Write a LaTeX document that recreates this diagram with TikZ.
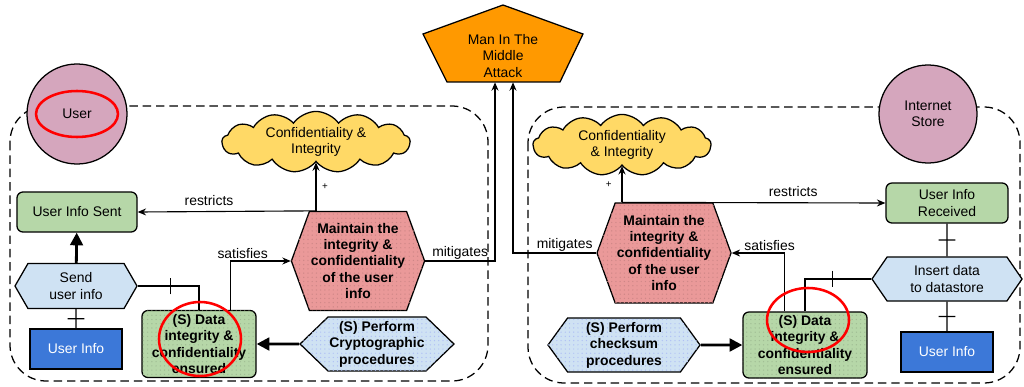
\documentclass[tikz,border=0pt]{standalone}
\usepackage{fontspec}
\setmainfont{Liberation Sans}
\usetikzlibrary{shapes.geometric,shapes.symbols,arrows.meta,decorations.markings,patterns}

\definecolor{rosa}{HTML}{D5A6BD}
\definecolor{verde}{HTML}{B6D7A8}
\definecolor{azzurro}{HTML}{CFE2F3}
\definecolor{blu}{HTML}{3C78D8}
\definecolor{rosso}{HTML}{EA9999}
\definecolor{arancio}{HTML}{FF9900}
\definecolor{giallo}{HTML}{FFD966}

\begin{document}
\begin{tikzpicture}[x=0.025cm, y=-0.025cm,
    every node/.style={font=\fontsize{9.9}{11.7}\selectfont, align=center, inner sep=1pt},
    attore/.style={circle, draw, line width=0.9pt, fill=rosa, minimum size=2.5cm},
    scatola/.style={rectangle, rounded corners=0.15cm, draw, line width=0.9pt, fill=verde, minimum width=3cm, minimum height=1cm},
    garanzia/.style={scatola, font=\fontsize{9.9}{11.7}\selectfont\bfseries, postaction={pattern=dots, pattern color=verde!88!black}},
    dato/.style={rectangle, draw, line width=0.9pt, fill=blu, text=white, minimum width=2.3cm, minimum height=1cm},
    processo/.style={signal, signal to=east and west, signal pointer angle=#1, draw, line width=0.9pt, fill=azzurro},
    sicurezza/.style={processo=#1, font=\fontsize{9.9}{11.7}\selectfont\bfseries, postaction={pattern=dots, pattern color=azzurro!85!blue}},
    obiettivo/.style={signal, signal to=east and west, signal pointer angle=140, draw, line width=0.9pt, fill=rosso,
        font=\fontsize{9.9}{11.7}\selectfont\bfseries, postaction={pattern=dots, pattern color=rosso!88!black}},
    nuvola/.style={cloud, cloud puffs=13, cloud puff arc=110, aspect=4, inner sep=0pt, draw, line width=0.9pt, fill=giallo, minimum width=4.7cm, minimum height=1.15cm},
    freccia/.style={-{Stealth[length=6pt,width=5pt,inset=2pt]}, line width=0.8pt},
    grossa/.style={-{Triangle[length=9pt,width=9pt]}, line width=2pt},
    linea/.style={line width=0.8pt},
    crossbar/.style={postaction={decorate, decoration={markings, mark=at position #1 with {\draw[line width=0.8pt] (0,-6pt) -- (0,6pt);}}}},
    bordo/.style={dash pattern=on 6pt off 3.5pt, line width=0.9pt, rounded corners=0.9cm},
    cerchio/.style={draw=red, line width=1.8pt}
  ]
  \useasboundingbox (0,0) rectangle (1024,387);

  % Confini tratteggiati
  \draw[bordo] (10,106) rectangle (488,381);
  \draw[bordo] (528,107) rectangle (1020,383);

  % Attacco
  \draw[line width=0.9pt, fill=arancio] (503,5) -- (583,34) -- (560,82) -- (447,82) -- (423,34) -- cycle;
  \node[minimum height=1.3cm] (mitm) at (503,56) {Man In The\\Middle\\Attack};

  % Lato utente
  \node[attore] (user) at (77,114) {User};
  \node[scatola] (sent) at (77,212) {User Info Sent};
  \node[processo=120, minimum width=3.05cm, minimum height=1.125cm] (send) at (76,286) {Send\\user info};
  \node[dato] (info1) at (76,349) {User Info};
  \node[garanzia, minimum width=2.85cm, minimum height=1.675cm] (integ1) at (199,344) {(S) Data\\integrity \&\\confidentiality\\ensured};
  \node[sicurezza=88, minimum width=3.75cm, minimum height=1.35cm] (crypto) at (377,344) {(S) Perform\\Cryptographic\\procedures};
  \node[obiettivo, minimum width=3.25cm, minimum height=2.475cm] (mnt1) at (358,261) {Maintain the\\integrity \&\\confidentiality\\of the user\\info};
  \node[nuvola] (conf1) at (316,142) {Confidentiality \&\\Integrity};

  % Lato negozio
  \node[attore, minimum size=2.45cm] (store) at (928,114) {Internet\\Store};
  \node[scatola, minimum width=3.05cm] (recv) at (947,203) {User Info\\Received};
  \node[processo=111, minimum width=3.75cm, minimum height=1.1cm] (insert) at (947,279) {Insert data\\to datastore};
  \node[dato] (info2) at (947,352) {User Info};
  \node[garanzia, minimum width=3.1cm, minimum height=1.65cm] (integ2) at (805,345) {(S) Data\\integrity \&\\confidentiality\\ensured};
  \node[sicurezza=108, minimum width=3.8cm, minimum height=1.35cm] (checksum) at (624,345) {(S) Perform\\checksum\\procedures};
  \node[obiettivo, minimum width=3.35cm, minimum height=2.5cm] (mnt2) at (664,253) {Maintain the\\integrity \&\\confidentiality\\of the user\\info};
  \node[nuvola, minimum width=4.45cm, minimum height=1.25cm] (conf2) at (622,145) {Confidentiality\\\& Integrity};

  % Collegamenti lato utente
  \draw[grossa] (send) -- (sent);
  \draw[linea, crossbar=0.5] (info1) -- (send);
  \draw[linea, crossbar=0.38] (send.east) -| (integ1.north);
  \draw[grossa] (crypto) -- (integ1);
  \draw[freccia] ([xshift=-0.65cm]integ1.north east) |- node[pos=0.6, above] {satisfies} (mnt1.west);
  \draw[freccia] (conf1.south |- mnt1.north) -- node[pos=0.6, above=3pt] {restricts} (sent.east);
  \draw[freccia] (conf1.south |- mnt1.north) -- node[right=3pt, font=\scriptsize] {+} (conf1.south);
  \draw[freccia] (mnt1.east) -| node[pos=0.25, above] {mitigates} ([xshift=-0.2cm]mitm.south);

  % Collegamenti lato negozio
  \draw[linea, crossbar=0.5] (recv) -- (insert);
  \draw[linea, crossbar=0.5] (insert) -- (info2);
  \draw[linea, crossbar=0.39] (insert.west) -| (integ2.north);
  \draw[grossa] (checksum) -- (integ2);
  \draw[freccia] ([xshift=1.05cm]integ2.north west) |- node[pos=0.64, above] {satisfies} (mnt2.east);
  \draw[freccia] (conf2.south |- mnt2.north) -- node[pos=0.65, above=3pt] {restricts} (recv.west);
  \draw[freccia] (conf2.south |- mnt2.north) -- node[left=6pt, font=\scriptsize] {+} (conf2.south);
  \draw[freccia] (mnt2.west) -| node[pos=0.19, above] {mitigates} ([xshift=0.25cm]mitm.south);

  % Evidenziazioni
  \draw[cerchio] (user.center) ellipse [x radius=41, y radius=23];
  \draw[cerchio] (200,339) ellipse [x radius=41, y radius=37];
  \draw[cerchio] (808,320) ellipse [x radius=41, y radius=32];
\end{tikzpicture}
\end{document}
